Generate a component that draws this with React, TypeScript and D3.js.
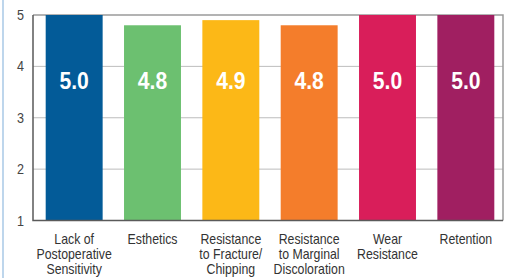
import React, { useEffect, useRef } from 'react';
import * as d3 from 'd3';

const categories = [
  ['Lack of', 'Postoperative', 'Sensitivity'],
  ['Esthetics'],
  ['Resistance', 'to Fracture/', 'Chipping'],
  ['Resistance', 'to Marginal', 'Discoloration'],
  ['Wear', 'Resistance'],
  ['Retention'],
];
const scores = [5.0, 4.8, 4.9, 4.8, 5.0, 5.0];
const barColors = ['#035b98', '#6cc070', '#fcb817', '#f47d2b', '#d91e5a', '#a01f61'];
const yTicks = [1, 2, 3, 4, 5];

const App = () => {
  const ref = useRef<SVGSVGElement>(null);

  useEffect(() => {
    if (!ref.current) return;
    const svg = d3.select(ref.current);
    svg.selectAll('*').remove();

    const left = 33, right = 503, top = 15, bottom = 220.5;
    const font = '"Liberation Sans", Arial, sans-serif';

    const x = d3.scaleBand<number>()
      .domain(d3.range(scores.length))
      .range([35, 505])
      .paddingInner(0.273)
      .paddingOuter(0.1365);
    const y = d3.scaleLinear().domain([1, 5]).range([bottom, top]);
    const cx = (i: number) => x(i)! + x.bandwidth() / 2;

    svg.append('rect').attr('width', 510).attr('height', 278).attr('fill', '#fff');
    // light blue left edge
    svg.append('line')
      .attr('x1', 3).attr('x2', 3).attr('y1', 0).attr('y2', 278)
      .attr('stroke', '#a9c9e6').attr('stroke-width', 1.5);

    // gridlines
    svg.selectAll('.grid')
      .data(yTicks.filter(t => t > 1 && t < 5))
      .enter()
      .append('line')
      .attr('x1', left).attr('x2', right)
      .attr('y1', d => y(d)).attr('y2', d => y(d))
      .attr('stroke', '#bdbdbd').attr('stroke-width', 1);

    // frame top/right
    svg.append('path')
      .attr('d', `M${left},${top}H${right}V${bottom}`)
      .attr('fill', 'none').attr('stroke', '#9a9a9a').attr('stroke-width', 1.5);

    svg.selectAll('.bar')
      .data(scores)
      .enter()
      .append('rect')
      .attr('x', (d, i) => x(i)!)
      .attr('width', x.bandwidth())
      .attr('y', d => y(d))
      .attr('height', d => bottom - y(d))
      .attr('fill', (d, i) => barColors[i]);

    // axis left/bottom
    svg.append('path')
      .attr('d', `M${left},${top}V${bottom}H${right}`)
      .attr('fill', 'none').attr('stroke', '#5a5a5a').attr('stroke-width', 1.5);

    // value labels (condensed look via scaleX)
    svg.selectAll('.val')
      .data(scores)
      .enter()
      .append('text')
      .attr('transform', (d, i) => `translate(${cx(i)},${y(3.55)}) scale(0.88,1)`)
      .attr('text-anchor', 'middle')
      .style('font-family', font)
      .style('font-weight', 'bold')
      .style('font-size', '24px')
      .style('fill', '#fff')
      .text(d => d.toFixed(1));

    // y tick labels
    svg.selectAll('.ytick')
      .data(yTicks)
      .enter()
      .append('text')
      .attr('transform', d => `translate(20.5,${y(d) + 5}) scale(0.9,1)`)
      .attr('text-anchor', 'middle')
      .style('font-family', font)
      .style('font-size', '14px')
      .style('fill', '#444')
      .text(d => d);

    // category labels
    const cat = svg.selectAll('.cat')
      .data(categories)
      .enter()
      .append('text')
      .attr('transform', (d, i) => `translate(${cx(i)},0) scale(0.88,1)`)
      .attr('text-anchor', 'middle')
      .style('font-family', font)
      .style('font-size', '14px')
      .style('fill', '#333');
    cat.each(function (lines) {
      const t = d3.select(this);
      lines.forEach((line, j) => {
        t.append('tspan')
          .attr('x', 0)
          .attr('y', 244 + j * 15)
          .text(line);
      });
    });
  }, []);

  return (
    <svg
      ref={ref}
      width={510}
      height={278}
      style={{ position: 'absolute', left: 0, top: 0 }}
    />
  );
};

export default App;
